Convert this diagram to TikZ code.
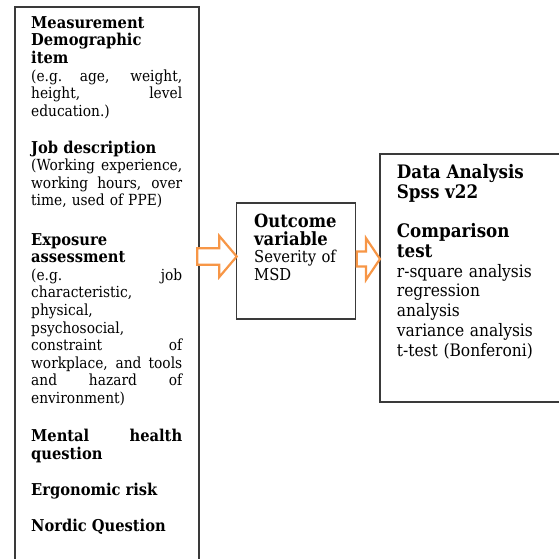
\documentclass[tikz,border=0pt]{standalone}
\usepackage{fontspec}
\setmainfont{DejaVu Serif Condensed}
\usetikzlibrary{calc}
\definecolor{boxline}{HTML}{3A3A3A}
\definecolor{arroworange}{HTML}{F79646}
\newcommand\jl[1]{\makebox[\linewidth][s]{\spaceskip=0.3em plus 1fil\xspaceskip=0.3em plus 1fil\relax #1}}
\newcommand\hd[3]{{\fontsize{#1}{#2}\selectfont\bfseries #3}}
\newcommand\hL[1]{\hd{16.3}{17.6}{#1}}
\newcommand\hM[1]{\hd{18.2}{17.8}{#1}}
\newcommand\hR[1]{\hd{18.6}{19.8}{#1}}
\begin{document}
\begin{tikzpicture}[x=1pt,y=-1pt,
  box/.style={draw=boxline,line width=1.1pt,inner sep=0pt,outer sep=0pt},
  txtL/.style={anchor=base west,inner sep=0pt,text width=151pt,align=left,
    font=\fontsize{15.3}{17.6}\selectfont},
  txtM/.style={anchor=base west,inner sep=0pt,text width=100pt,align=left,
    font=\fontsize{16.4}{17.8}\selectfont},
  txtR/.style={anchor=base west,inner sep=0pt,text width=160pt,align=left,
    font=\fontsize{17.2}{19.8}\selectfont},
  hollow/.style={draw=arroworange,line width=2.2pt,fill=white,line join=miter}]
\useasboundingbox (0,0) rectangle (559,559);
\clip (0,0) rectangle (559,559);
% boxes
\node[box,anchor=north west,minimum width=184pt,minimum height=570pt] (L) at (15,7) {};
\node[box,anchor=north west,minimum width=119pt,minimum height=116pt] (M) at (236.7,203) {};
\node[box,anchor=north west,minimum width=190pt,minimum height=248pt] (R) at (380,154) {};
% left texts
\node[txtL] (t1) at (31,28.3) {\hL{Measurement}\\\hL{Demographic}\\\hL{item}\\\jl{(e.g. age, weight,}\\\jl{height, level}\\education.)};
\node[txtL] (t2) at (31,153) {\hL{Job description}\\\jl{(Working experience,}\\\jl{working hours, over}\\time, used of PPE)};
\node[txtL] (t3) at (31,245) {\hL{Exposure}\\\hL{assessment}\\\jl{(e.g. job}\\characteristic,\\physical,\\psychosocial,\\\jl{constraint of}\\\jl{workplace, and tools}\\\jl{and hazard of}\\environment)};
\node[txtL] (t4) at (31,441.7) {\jl{\fontsize{16.3}{17.6}\selectfont\bfseries Mental health}\\\hL{question}};
\node[txtL] (t5) at (31,495) {\hL{Ergonomic risk}};
\node[txtL] (t6) at (31,531.7) {\hL{Nordic Question}};
% middle text
\node[txtM] (t7) at (254,227.3) {\hM{Outcome}\\\hM{variable}\\Severity of\\MSD};
% right text
\node[txtR] (t8) at (396.7,178.3) {\hR{Data Analysis}\\\hR{Spss v22}};
\node[txtR] (t9) at (396.7,237.5) {\hR{Comparison}\\\hR{test}\\r-square analysis\\regression\\analysis\\variance analysis\\t-test (Bonferoni)};
% block arrows
\coordinate (ya) at (0,256.5);
\coordinate (yb) at (0,259);
\draw[hollow] let \p1=(L.east|-ya), \p2=(M.west|-ya) in
  (\x1-1.7pt,\y1-8.3pt) -- (\x2-17.4pt,\y1-8.3pt) -- (\x2-17.4pt,\y1-20.5pt) --
  (\x2,\y1) -- (\x2-17.4pt,\y1+20.5pt) -- (\x2-17.4pt,\y1+8.3pt) --
  (\x1-1.7pt,\y1+8.3pt) -- cycle;
\draw[hollow] let \p1=(M.east|-yb), \p2=(R.west|-yb) in
  (\x1+1pt,\y1-7.5pt) -- (\x2-14pt,\y1-7.5pt) -- (\x2-14pt,\y1-20.8pt) --
  (\x2,\y1) -- (\x2-14pt,\y1+20.8pt) -- (\x2-14pt,\y1+7.5pt) --
  (\x1+1pt,\y1+7.5pt) -- cycle;
\end{tikzpicture}
\end{document}
